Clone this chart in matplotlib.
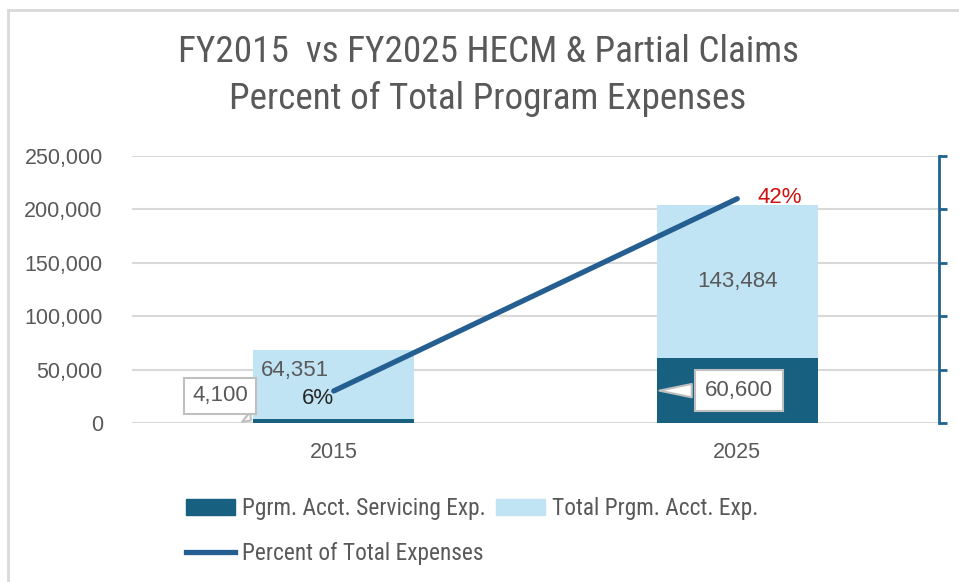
import numpy as np
import matplotlib.pyplot as plt
from matplotlib.patches import Patch
from matplotlib.lines import Line2D

# data
years = ['2015', '2025']
servicing_exp = [4100, 60600]
total_exp = [64351, 143484]
pct_total = [0.06, 0.42]

dark = '#17607F'
light = '#C1E4F5'
line_col = '#255E91'
grey_txt = '#595959'
narrow = ['Roboto Condensed', 'DejaVu Sans']

fig = plt.figure(figsize=(9.59, 5.82), dpi=100)
fig.patches.append(plt.Rectangle((8 / 959, -0.01), 1.1, 1 - 10 / 582 + 0.01,
                                 transform=fig.transFigure, fill=False,
                                 ec='#D9D9D9', lw=2))

ax = fig.add_axes([132 / 959, 1 - 423 / 582, (939 - 132) / 959, 267 / 582])
x = np.arange(len(years))
ax.bar(x, servicing_exp, width=0.4, color=dark, zorder=2)
ax.bar(x, total_exp, width=0.4, bottom=servicing_exp, color=light, zorder=2)

ax.set_xlim(-0.5, 1.5)
ax.set_ylim(0, 250000)
ax.set_yticks(np.arange(0, 250001, 50000))
ax.set_yticklabels([f'{v:,}' for v in range(0, 250001, 50000)])
ax.set_xticks(x)
ax.set_xticklabels(years)
ax.tick_params(length=0, labelsize=15.5, labelcolor=grey_txt)
for lab in ax.get_xticklabels() + ax.get_yticklabels():
    lab.set_family('Liberation Sans')
ax.tick_params(axis='y', pad=21)
ax.tick_params(axis='x', pad=14)
ax.grid(axis='y', color='#D9D9D9', lw=1.5, zorder=0)
ax.set_axisbelow(True)
for s in ax.spines.values():
    s.set_visible(False)

# value labels
lbl = dict(fontsize=16, color=grey_txt, family='Liberation Sans',
           ha='center', va='center')
ax.text(-0.097, 48700, f'{total_exp[0]:,}', **lbl, zorder=3)
ax.text(1.0, servicing_exp[1] + total_exp[1] / 2, f'{total_exp[1]:,}', **lbl, zorder=3)

box = dict(boxstyle='square,pad=0.35', fc='white', ec='#BFBFBF', lw=1.5)
arr = dict(arrowstyle='wedge,tail_width=0.6', fc='white', ec='#BFBFBF', lw=1.5)
ax.annotate(f'{servicing_exp[0]:,}', xy=(-0.2, 800), xytext=(-0.282, 25300),
            bbox=box, arrowprops=arr, zorder=4, **lbl)
ax.annotate(f'{servicing_exp[1]:,}', xy=(0.8, servicing_exp[1] / 2),
            xytext=(1.005, servicing_exp[1] / 2),
            bbox=dict(box, boxstyle='square,pad=0.45'), arrowprops=arr,
            zorder=4, **lbl)

# secondary axis
ax2 = ax.twinx()
ax2.plot(x, pct_total, color=line_col, lw=3.8, solid_capstyle='round')
ax2.set_ylim(0, 0.5)
ax2.set_yticks(np.arange(0, 0.51, 0.1))
ax2.set_yticklabels([])
for k in ['top', 'left', 'bottom']:
    ax2.spines[k].set_visible(False)
ax2.spines['right'].set_color('#1F6390')
ax2.spines['right'].set_linewidth(2)
ax2.tick_params(axis='y', color='#1F6390', width=2, length=6)
ax2.text(-0.040, 0.045, f'{pct_total[0]:.0%}', fontsize=16, color='#262626',
         family='Liberation Sans', ha='center', va='center')
ax2.text(1.106, 0.423, f'{pct_total[1]:.0%}', fontsize=16, color='#D01010',
         family='Liberation Sans', ha='center', va='center')

# title
fig.text(488 / 959, 1 - 52 / 582, 'FY2015  vs FY2025 HECM & Partial Claims',
         fontsize=26.7, color=grey_txt, family=narrow, ha='center', va='center')
fig.text(488 / 959, 1 - 99 / 582, 'Percent of Total Program Expenses',
         fontsize=26.7, color=grey_txt, family=narrow, ha='center', va='center')

# legend
handles = [Patch(color=dark), Line2D([], [], color=line_col, lw=3.8),
           Patch(color=light)]
labels = ['Pgrm. Acct. Servicing Exp.', 'Percent of Total Expenses',
          'Total Prgm. Acct. Exp.']
fig.legend(handles, labels, ncol=2, loc='upper left',
           bbox_to_anchor=(186 / 959, 1 - 497 / 582), frameon=False,
           borderpad=0, borderaxespad=0,
           prop={'family': narrow, 'size': 16.8}, labelcolor=grey_txt,
           handlelength=2.1, handletextpad=0.3, columnspacing=0.45,
           labelspacing=0.95)

fig.savefig('out.png', dpi=100)
